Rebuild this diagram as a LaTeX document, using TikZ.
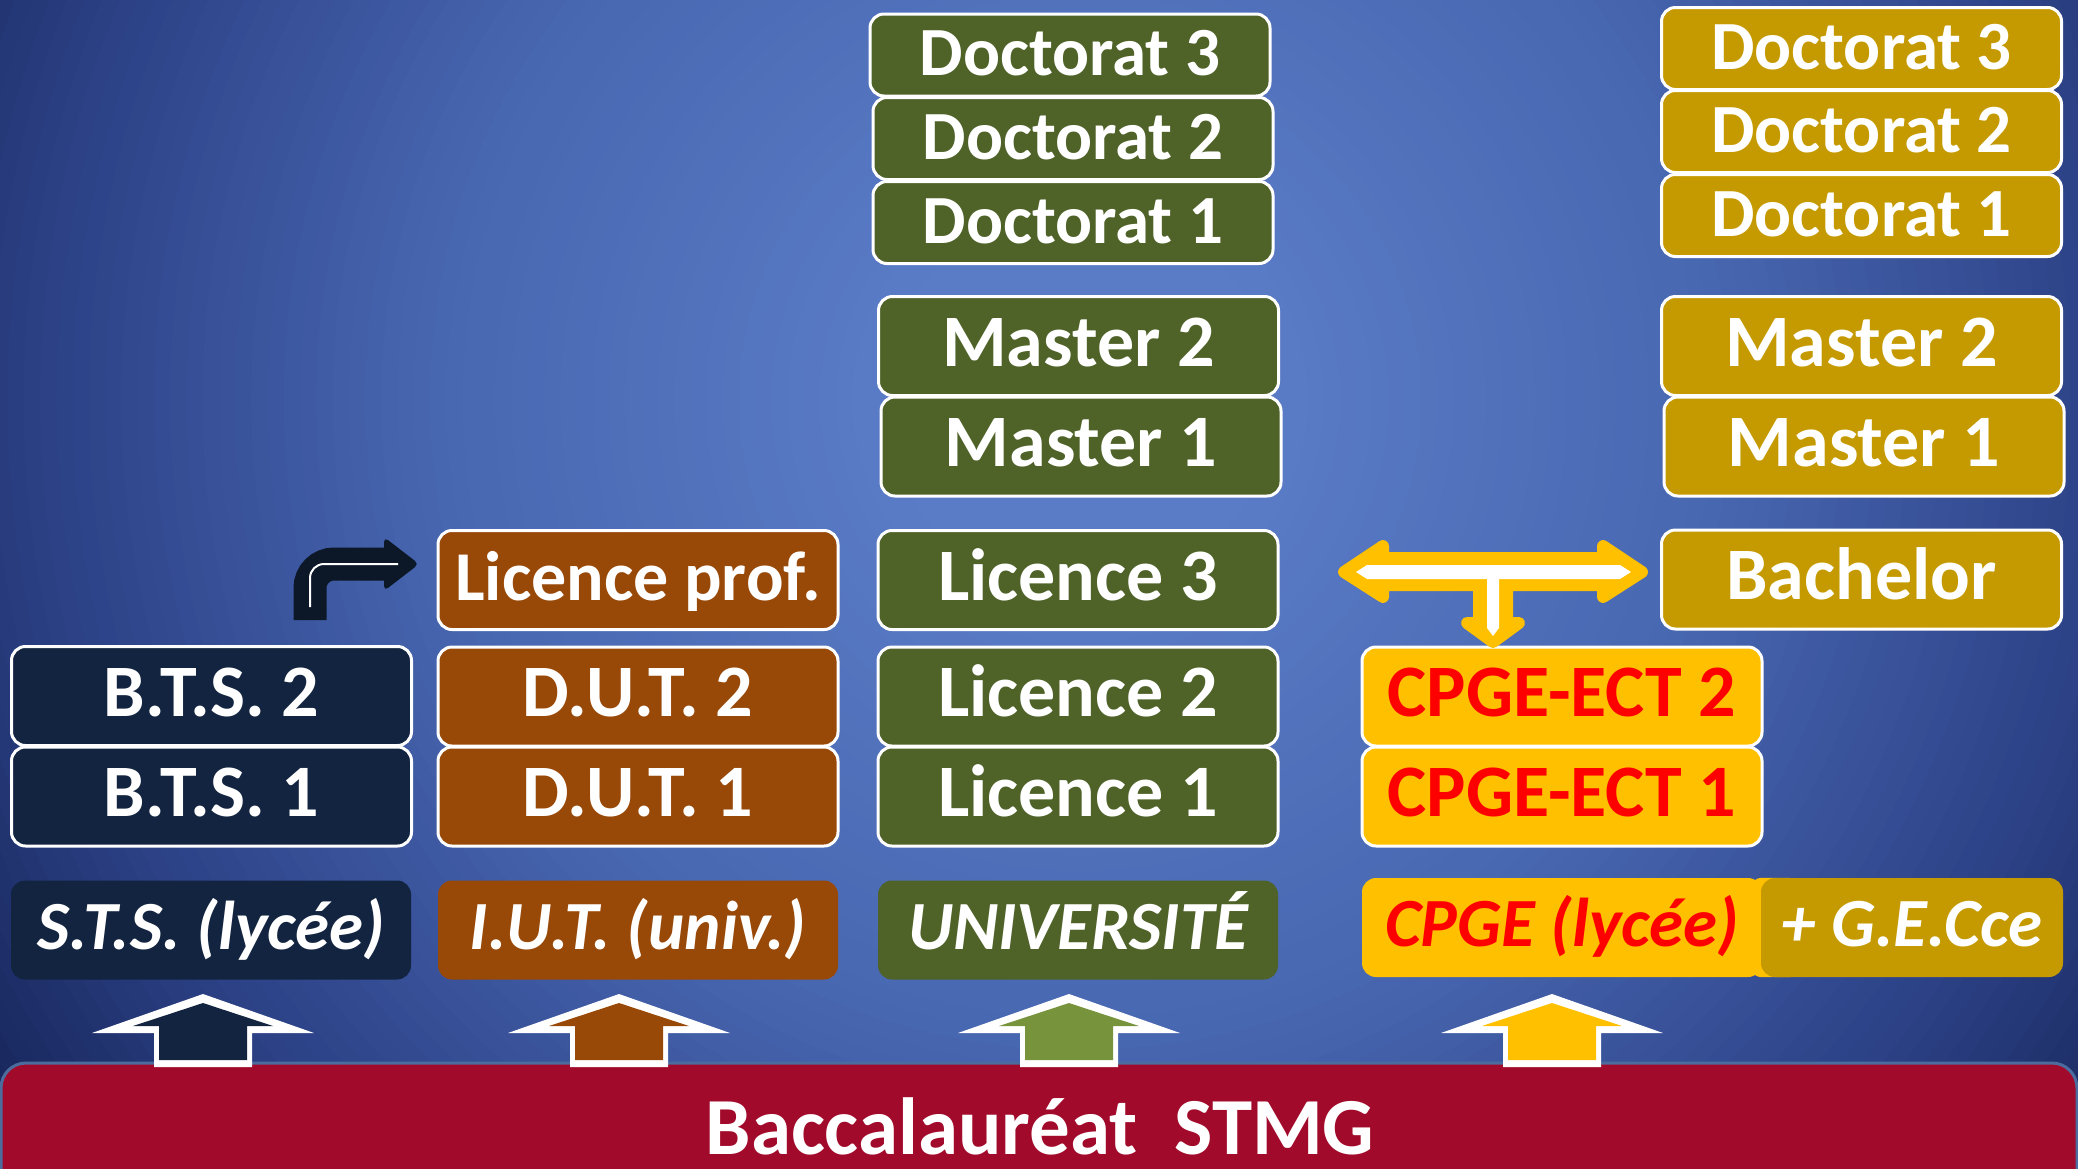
\documentclass[tikz,border=0pt]{standalone}
\usepackage{fontspec}
\setmainfont{Carlito}
\usetikzlibrary{calc}
\definecolor{navy}{HTML}{12243F}
\definecolor{brownc}{HTML}{984807}
\definecolor{olive}{HTML}{4F6228}
\definecolor{oliveL}{HTML}{77933C}
\definecolor{cyellow}{HTML}{FFC000}
\definecolor{cgold}{HTML}{C59A00}
\definecolor{cred}{HTML}{FF0000}
\definecolor{bac}{HTML}{A20A2B}
\definecolor{bacedge}{HTML}{4D6C9E}
\definecolor{arrowdark}{HTML}{0C1727}
\definecolor{bgA}{HTML}{5A7BC6}
\definecolor{bgB}{HTML}{4867B1}
\definecolor{bgC}{HTML}{2C4186}
\definecolor{bgD}{HTML}{17265B}
\tikzset{
  box/.style={rounded corners=14pt, draw=white, line width=3pt, minimum width=400pt, minimum height=99pt, inner sep=0pt, text=white, font=\bfseries\fontsize{74}{74}\selectfont, text height=46pt, text depth=6pt},
  dbox/.style={box, minimum height=82pt, font=\bfseries\fontsize{69}{69}\selectfont, text height=43pt, text depth=2pt},
  base/.style={rounded corners=14pt, minimum width=400pt, minimum height=99pt, inner sep=0pt, text=white, font=\bfseries\itshape\fontsize{69}{69}\selectfont, text height=44pt, text depth=6pt},
}
\begin{document}
\begin{tikzpicture}[x=1pt,y=-1pt]
\useasboundingbox (0,0) rectangle (2078,1168);
\begin{scope}
\clip (0,0) rectangle (2078,1168);
% background: stepped radial gradient
\fill[bgD] (0,0) rectangle (2078,1168);
\coordinate (bgc) at (1080,400);
\foreach \k in {0,...,15}{
  \pgfmathsetmacro\rr{1300*(1-0.2*\k/16)}
  \pgfmathsetmacro\pc{100*\k/16}
  \fill[bgC!\pc!bgD] (bgc) circle (\rr);
}
\foreach \k in {0,...,23}{
  \pgfmathsetmacro\rr{1300*(0.8-0.3*\k/24)}
  \pgfmathsetmacro\pc{100*\k/24}
  \fill[bgB!\pc!bgC] (bgc) circle (\rr);
}
\foreach \k in {0,...,27}{
  \pgfmathsetmacro\rr{1300*(0.5-0.35*\k/28)}
  \pgfmathsetmacro\pc{100*\k/28}
  \fill[bgA!\pc!bgB] (bgc) circle (\rr);
}
\fill[bgA] (bgc) circle (195);
% bottom bar
\draw[draw=bacedge, line width=3pt, fill=bac, rounded corners=25pt] (1,1063) rectangle (2077,1230);
\node[font=\bfseries\fontsize{81}{81}\selectfont, text=white, text height=51pt, text depth=0pt, inner sep=0pt] (bac) at (1040,1129) {Baccalauréat~~STMG};

% column 1
\node[box, fill=navy] (bts2) at (211.5,696) {B.T.S. 2};
\node[box, fill=navy] (bts1) at (211.5,796.5) {B.T.S. 1};
\node[base, fill=navy] (sts) at (211,930) {S.T.S. (lycée)};
% column 2
\node[box, fill=brownc, font=\bfseries\fontsize{70}{70}\selectfont] (lp) at (638,580) {Licence prof.};
\node[box, fill=brownc] (dut2) at (638,696.5) {D.U.T. 2};
\node[box, fill=brownc] (dut1) at (638,796.5) {D.U.T. 1};
\node[base, fill=brownc] (iut) at (638,930) {I.U.T. (univ.)};
% column 3
\node[dbox, fill=olive] (d3) at (1070,55) {Doctorat 3};
\node[dbox, fill=olive] (d2) at (1073,138.5) {Doctorat 2};
\node[dbox, fill=olive] (d1) at (1073,222.5) {Doctorat 1};
\node[box, fill=olive] (m2) at (1078.5,346) {Master 2};
\node[box, fill=olive] (m1) at (1081,446.5) {Master 1};
\node[box, fill=olive] (l3) at (1078,580) {Licence 3};
\node[box, fill=olive] (l2) at (1078,696.5) {Licence 2};
\node[box, fill=olive] (l1) at (1078,796.5) {Licence 1};
\node[base, fill=olive] (univ) at (1078,930) {UNIVERSITÉ};
% column 4
\node[box, fill=cyellow, text=cred] (ect2) at (1562,696.5) {CPGE-ECT 2};
\node[box, fill=cyellow, text=cred] (ect1) at (1562,796.5) {CPGE-ECT 1};
\node[base, fill=cyellow, text=cred] (cpge) at (1562,927.5) {CPGE (lycée)};
\fill[cyellow, rounded corners=14pt] ($(cpge.north east)+(-14,0)$) rectangle ($(cpge.south east)+(40,0)$);
\node[base, fill=cgold, minimum width=302pt] (gec) at (1912,927.5) {+ G.E.Cce};
% column 5
\node[dbox, fill=cgold] (gd3) at (1861.5,48.5) {Doctorat 3};
\node[dbox, fill=cgold] (gd2) at (1861.5,131.5) {Doctorat 2};
\node[dbox, fill=cgold] (gd1) at (1861.5,215.5) {Doctorat 1};
\node[box, fill=cgold] (gm2) at (1861.5,346) {Master 2};
\node[box, fill=cgold] (gm1) at (1864,446.5) {Master 1};
\node[box, fill=cgold] (bach) at (1861.5,579.5) {Bachelor};

% up arrows
\foreach \cx/\col in {203/navy,619/brownc,1069/oliveL,1552/cyellow}{
  \fill[white] (\cx,994) -- ({\cx+111},1033) -- ({\cx+49},1033) -- ({\cx+49},1067) -- ({\cx-49},1067) -- ({\cx-49},1033) -- ({\cx-111},1033) -- cycle;
  \fill[\col] (\cx,1003) -- ({\cx+70},1026) -- ({\cx+44},1026) -- ({\cx+44},1060) -- ({\cx-44},1060) -- ({\cx-44},1026) -- ({\cx-70},1026) -- cycle;
}

% curved arrow BTS -> Licence prof.
\coordinate (caS) at (310,620);
\coordinate (caC) at (310,564);
\coordinate (caE) at (392,564);
\draw[arrowdark, line width=33pt, rounded corners=24pt] (caS) -- (caC) -- (caE);
\fill[arrowdark, rounded corners=5pt] (384,537) -- (419,564) -- (384,591) -- cycle;
\draw[white, line width=2pt, rounded corners=14pt] (310,607) -- (caC) -- (398,564);

% T double arrow
\filldraw[cyellow, line width=12pt, line join=round] (1344,572) -- (1383,546) -- (1383,558) -- (1603,558) -- (1603,546) -- (1642,572) -- (1603,597) -- (1603,585) -- (1507,585) -- (1507,623) -- (1519,623) -- (1493,642) -- (1467,623) -- (1479,623) -- (1479,585) -- (1383,585) -- (1383,597) -- cycle;
\fill[white] (1356,572) -- (1367,565) -- (1620,565) -- (1631,572) -- (1620,579) -- (1367,579) -- cycle;
\fill[white] (1487,579) -- (1499,579) -- (1499,628) -- (1493,636) -- (1487,628) -- cycle;
\end{scope}
\end{tikzpicture}
\end{document}
